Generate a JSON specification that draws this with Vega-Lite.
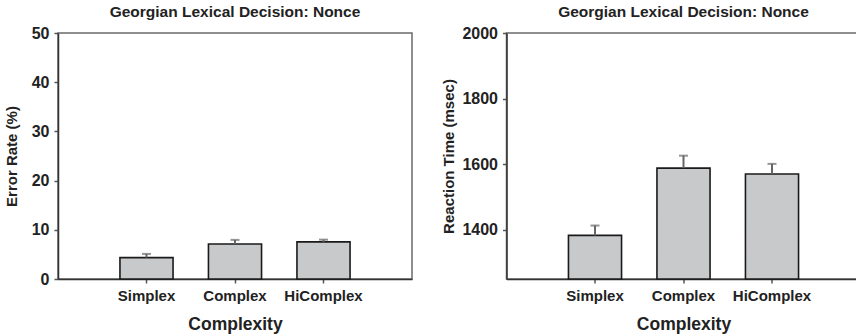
{
  "$schema": "https://vega.github.io/schema/vega-lite/v6.json",
  "background": "white",
  "padding": {"left": 3, "top": 3, "right": 5, "bottom": 5},
  "config": {
    "font": "Liberation Sans",
    "view": {"stroke": "#6a6a6a", "strokeWidth": 1.5},
    "axis": {
      "labelFont": "Liberation Sans",
      "labelFontSize": 15,
      "labelFontWeight": "bold",
      "labelColor": "#222",
      "titleFont": "Liberation Sans",
      "titleFontSize": 15,
      "titleFontWeight": "bold",
      "titleColor": "#222",
      "grid": false,
      "domainColor": "#333",
      "domainWidth": 1.5,
      "tickColor": "#555",
      "tickWidth": 1.5,
      "tickSize": 4,
      "labelPadding": 5
    },
    "axisY": {"labelFontSize": 16, "format": "d"},
    "title": {"font": "Liberation Sans", "fontSize": 15.5, "fontWeight": "bold", "color": "#222", "offset": 5}
  },
  "datasets": {
    "err": [
      {"cond": "Simplex", "mean": 4.35, "upper": 5.1},
      {"cond": "Complex", "mean": 7.1, "upper": 7.95},
      {"cond": "HiComplex", "mean": 7.55, "upper": 8.0}
    ],
    "rt": [
      {"cond": "Simplex", "mean": 1383, "upper": 1413},
      {"cond": "Complex", "mean": 1588, "upper": 1626},
      {"cond": "HiComplex", "mean": 1570, "upper": 1601}
    ]
  },
  "spacing": 27.5,
  "hconcat": [
    {
      "title": "Georgian Lexical Decision: Nonce",
      "width": 354,
      "height": 246,
      "data": {"name": "err"},
      "encoding": {
        "x": {
          "field": "cond", "type": "nominal",
          "sort": ["Simplex", "Complex", "HiComplex"],
          "scale": {"paddingInner": 0.4, "paddingOuter": 0.7},
          "axis": {"labelAngle": 0, "title": "Complexity", "titleFontSize": 17.5, "titlePadding": 12}
        }
      },
      "layer": [
        {
          "mark": {"type": "bar", "fill": "#c8c9cb", "stroke": "#1a1a1a", "strokeWidth": 1.6},
          "encoding": {
            "y": {"field": "mean", "type": "quantitative",
              "scale": {"domain": [0, 50], "nice": false},
              "axis": {"values": [0, 10, 20, 30, 40, 50], "title": "Error Rate (%)", "titlePadding": 12}}
          }
        },
        {
          "mark": {"type": "rule", "color": "#666", "strokeWidth": 2},
          "encoding": {
            "y": {"field": "mean", "type": "quantitative"},
            "y2": {"field": "upper"}
          }
        },
        {
          "mark": {"type": "tick", "color": "#666", "thickness": 2, "size": 9},
          "encoding": {
            "y": {"field": "upper", "type": "quantitative"}
          }
        }
      ]
    },
    {
      "title": "Georgian Lexical Decision: Nonce",
      "width": 354,
      "height": 246,
      "data": {"name": "rt"},
      "encoding": {
        "x": {
          "field": "cond", "type": "nominal",
          "sort": ["Simplex", "Complex", "HiComplex"],
          "scale": {"paddingInner": 0.4, "paddingOuter": 0.7},
          "axis": {"labelAngle": 0, "title": "Complexity", "titleFontSize": 17.5, "titlePadding": 12}
        }
      },
      "layer": [
        {
          "mark": {"type": "bar", "fill": "#c8c9cb", "stroke": "#1a1a1a", "strokeWidth": 1.6},
          "encoding": {
            "y": {"field": "mean", "type": "quantitative",
              "scale": {"domain": [1250, 2000], "nice": false, "zero": false},
              "axis": {"values": [1400, 1600, 1800, 2000], "title": "Reaction Time (msec)", "titlePadding": 5}},
            "y2": {"datum": 1250}
          }
        },
        {
          "mark": {"type": "rule", "color": "#666", "strokeWidth": 2},
          "encoding": {
            "y": {"field": "mean", "type": "quantitative"},
            "y2": {"field": "upper"}
          }
        },
        {
          "mark": {"type": "tick", "color": "#666", "thickness": 2, "size": 9},
          "encoding": {
            "y": {"field": "upper", "type": "quantitative"}
          }
        }
      ]
    }
  ]
}
